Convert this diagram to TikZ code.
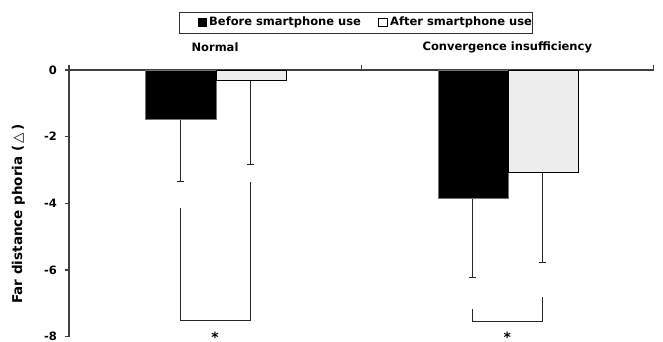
\documentclass[tikz,border=0pt]{standalone}
\usepackage{fontspec}
\setmainfont{DejaVu Sans}
\newfontfamily\symfont{DejaVu Sans}

\begin{document}
\begin{tikzpicture}
[x=1pt,y=33.333pt,%
  axisDecorate/.style={draw=black!75,line width=1.1pt},%
  beforeDecorate/.style={fill=black,draw=black!55,line width=0.6pt},%
  afterDecorate/.style={fill=black!7,draw=black,line width=0.8pt},%
  errDecorate/.style={draw=black!85,line width=0.9pt},%
  textDecorate/.style={inner sep=0pt,font=\fontsize{11.5}{13}\selectfont\bfseries},%
  keyDecorate/.style={draw=black,line width=0.6pt,minimum size=8.4pt,inner sep=0pt}]
\useasboundingbox (0,2.1) rectangle (663,-8.16);
%% axes
\draw[axisDecorate] (69,0.15) -- (69,-8);
\draw[axisDecorate] (69,0) -- (653.3,0) -- (653.3,0.15);
\draw[axisDecorate] (361.7,0) -- (361.7,0.15);
\foreach \val/\nm in {0/t0,-2/t2,-4/t4,-6/t6,-8/t8}
{
  \draw[axisDecorate] (64.7,\val) -- (69,\val);
  \node (\nm) at (57,\val) [textDecorate,anchor=east] {\val};
}
\node (ylabel) at (18.5,-4.32) [textDecorate,font=\fontsize{13.5}{15}\selectfont\bfseries,rotate=90]
  {Far distance phoria (\,{\mdseries\symfont\symbol{"25B3}}\,)};
%% legend
\draw[draw=black!80,line width=0.8pt] (179,1.731) rectangle (532.7,1.101);
\node (keyBefore) at (202.5,1.425) [keyDecorate,fill=black] {};
\node (before) at (209,1.425) [textDecorate,anchor=west] {Before smartphone use};
\node (keyAfter) at (382.9,1.425) [keyDecorate,fill=white] {};
\node (after) at (390,1.425) [textDecorate,anchor=west] {After smartphone use};
%% groups: name/centre/before/after/error before/error after
\foreach \nm/\cx/\bef/\aft/\ebef/\eaft/\title in {
  norm/216/-1.48/-0.3/-3.35/-2.82/Normal,
  conv/508.3/-3.85/-3.06/-6.21/-5.77/Convergence insufficiency}
{
  \node (\nm) at (\cx-1,0.69) [textDecorate] {\title};
  \draw[errDecorate] (\cx-35.7,\bef) -- (\cx-35.7,\ebef)
    (\cx-39.4,\ebef) -- (\cx-32,\ebef);
  \draw[errDecorate] (\cx+34.3,\aft) -- (\cx+34.3,\eaft)
    (\cx+30.6,\eaft) -- (\cx+38,\eaft);
  \draw[beforeDecorate] (\cx-70.3,0) rectangle (\cx,\bef);
  \draw[afterDecorate] (\cx,0) rectangle (\cx+70.3,\aft);
}
%% significance brackets
\foreach \nm/\cx/\ltop/\rtop/\bot/\sy in {
  sigNorm/216/-4.15/-3.35/-7.5/-7.845,
  sigConv/508.3/-7.18/-6.82/-7.55/-7.87}
{
  \draw[errDecorate] (\cx-35.7,\ltop) -- (\cx-35.7,\bot) -- (\cx+34.3,\bot) -- (\cx+34.3,\rtop);
  \node (\nm) at (\cx-1,\sy) [textDecorate,font=\fontsize{14}{15}\selectfont\bfseries,anchor=north] {*};
}
\end{tikzpicture}
\end{document}
